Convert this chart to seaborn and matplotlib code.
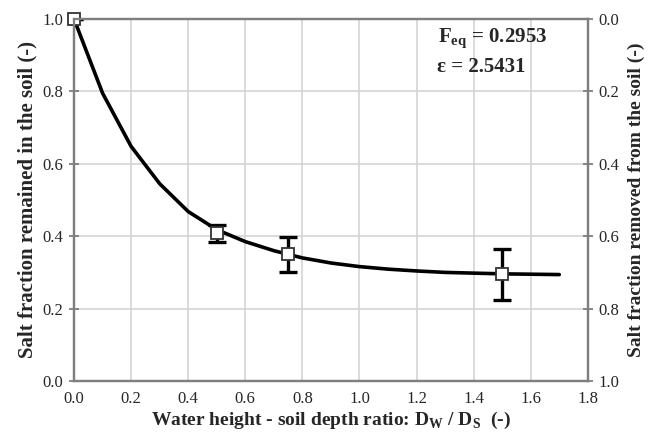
import numpy as np
import pandas as pd
import seaborn as sns
import matplotlib.pyplot as plt

sns.set_style("white")
plt.rcParams['font.family'] = ['Liberation Serif', 'DejaVu Serif']
plt.rcParams['mathtext.fontset'] = 'custom'
plt.rcParams['mathtext.rm'] = 'Liberation Serif'
plt.rcParams['mathtext.bf'] = 'Liberation Serif:bold'

# fitted curve
curve_x = [0.0, 0.1, 0.2, 0.3, 0.4, 0.5, 0.6, 0.7, 0.8, 0.9,
           1.0, 1.1, 1.2, 1.3, 1.4, 1.5, 1.6, 1.7]
curve_y = [1.0, 0.795, 0.648, 0.545, 0.468, 0.418, 0.385, 0.36, 0.34, 0.326,
           0.316, 0.309, 0.304, 0.300, 0.298, 0.296, 0.295, 0.294]

# measured points
meas_x = [0.0, 0.5, 0.75, 1.5]
meas_y = [1.0, 0.408, 0.350, 0.295]
meas_err = [0.0, 0.024, 0.048, 0.070]

x_ticks = [0.0, 0.2, 0.4, 0.6, 0.8, 1.0, 1.2, 1.4, 1.6, 1.8]
y_ticks = [0.0, 0.2, 0.4, 0.6, 0.8, 1.0]

df_curve = pd.DataFrame({'x': curve_x, 'y': curve_y})

fig = plt.figure(figsize=(6.51, 4.40), dpi=100)
ax = fig.add_axes([0.1137, 0.134, 0.7893, 0.823])

spine_col = '#7f7f7f'
ax.grid(True, color='#d4d4d4', linewidth=1.2)
ax.set_axisbelow(True)

sns.lineplot(data=df_curve, x='x', y='y', ax=ax, color='black', linewidth=2.6,
             zorder=3)
ax.errorbar(meas_x, meas_y, yerr=meas_err, fmt='none', ecolor='black',
            elinewidth=2.4, capsize=6.5, capthick=2.4, zorder=4)
ax.plot(meas_x, meas_y, linestyle='none', marker='s', markersize=8.5,
        markerfacecolor='white', markeredgecolor='#333333',
        markeredgewidth=1.3, zorder=5, clip_on=False)

ax.set_xlim(0, 1.8)
ax.set_ylim(0, 1.0)
ax.set_xticks(x_ticks)
ax.set_yticks(y_ticks)
ax.set_xticklabels([f"{v:.1f}" for v in x_ticks], fontsize=12)
ax.set_yticklabels([f"{v:.1f}" for v in y_ticks], fontsize=12)
ax.tick_params(direction='inout', length=7, width=1.3, color=spine_col, pad=4)

for s in ax.spines.values():
    s.set_color(spine_col)
    s.set_linewidth(1.6)

ax.set_xlabel(r"Water height - soil depth ratio: D$_\mathbf{W}$ / D$_\mathbf{S}$  (-)",
              fontsize=14, fontweight='bold', labelpad=2)
ax.set_ylabel("Salt fraction remained in the soil (-)", fontsize=15,
              fontweight='bold', labelpad=4)

ax2 = ax.twinx()
ax2.set_ylim(1.0, 0.0)
ax2.set_yticks(y_ticks)
ax2.set_yticklabels([f"{v:.1f}" for v in y_ticks], fontsize=12)
ax2.tick_params(direction='inout', length=7, width=1.3, color=spine_col, pad=4)
for s in ax2.spines.values():
    s.set_color(spine_col)
    s.set_linewidth(1.6)
ax2.set_ylabel("Salt fraction removed from the soil (-)", fontsize=14,
               fontweight='bold', labelpad=6)

ax.text(1.275, 0.946, r"F$_\mathbf{eq}$ = 0.2953", fontsize=15, fontweight='bold',
        va='center', ha='left')
ax.text(1.272, 0.866, "ε = 2.5431", fontsize=15, fontweight='bold',
        va='center', ha='left')

fig.savefig('out.png', dpi=100)
